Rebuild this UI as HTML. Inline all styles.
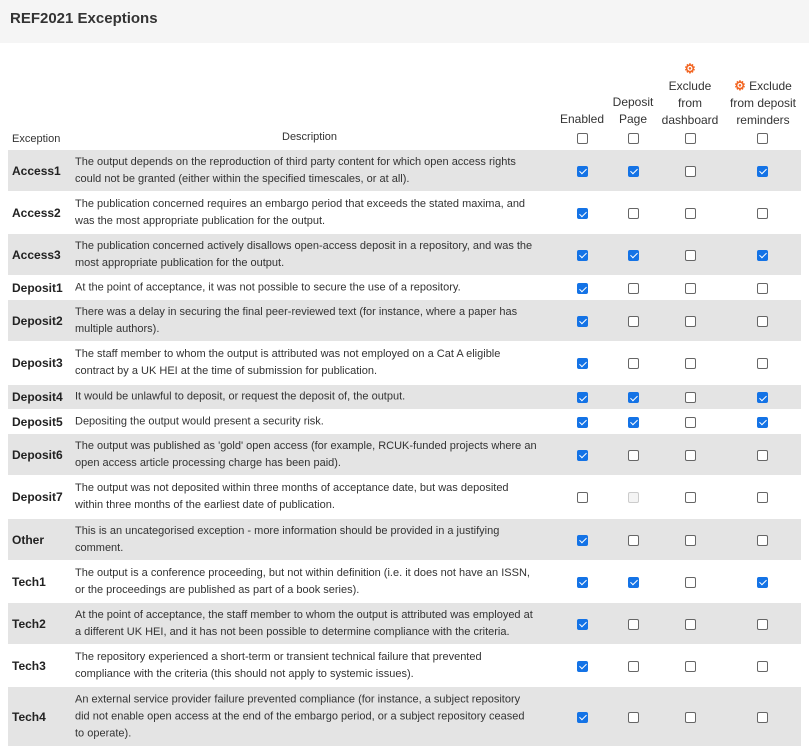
<!DOCTYPE html>
<html><head><meta charset="utf-8"><style>
*{box-sizing:border-box;margin:0;padding:0}
body{width:809px;height:754px;background:#fff;font-family:"Liberation Sans",sans-serif;color:#333;position:relative;overflow:hidden}
.hdr{position:absolute;left:0;top:0;width:809px;height:43px;background:#f5f5f5}
.hdr h1{position:absolute;left:10px;top:10px;font-size:15px;font-weight:bold;color:#333}
.row{position:absolute;left:8px;width:793px}
.row.s{background:#e4e4e4}
.ex{position:absolute;left:4px;top:50%;transform:translateY(-50%);font-size:12px;font-weight:bold;color:#222}
.de{position:absolute;left:67px;top:50%;transform:translateY(-50%);font-size:11px;line-height:17px;color:#333;white-space:nowrap}
.cb{position:absolute;top:50%;margin-top:-5px;width:11px;height:11px;border:1px solid #666;border-radius:2px;background:#fff}
.cb.on{background:#1473e6;border-color:#1473e6}
.cb.on:after{content:"";position:absolute;left:3px;top:0.5px;width:3px;height:6px;border:solid #fff;border-width:0 1.6px 1.6px 0;transform:rotate(45deg)}
.cb.dis{border-color:#ccc;background:#f4f4f4}
.c1{left:569px}.c2{left:620px}.c3{left:677px}.c4{left:749px}
.th{position:absolute;font-size:12px;color:#333;text-align:center;line-height:17px}
.gear{color:#f26522;font-size:13px;font-weight:bold}
</style></head><body>
<div class="hdr"><h1>REF2021 Exceptions</h1></div>
<div class="th" style="left:12px;top:131px;font-size:11px;text-align:left">Exception</div>
<div class="th" style="left:282px;top:129px;font-size:11px">Description</div>
<div class="th" style="left:552px;top:111px;width:60px">Enabled</div>
<div class="th" style="left:605px;top:94px;width:56px">Deposit<br>Page</div>
<div class="th" style="left:655px;top:60px;width:70px"><span class="gear">⚙</span><br>Exclude<br>from<br>dashboard</div>
<div class="th" style="left:722px;top:77px;width:82px"><span class="gear">⚙</span> Exclude<br>from deposit<br>reminders</div>
<div class="row" style="top:130px;height:16px;left:8px">
<span class="cb c1"></span><span class="cb c2"></span><span class="cb c3"></span><span class="cb c4"></span></div>

<div class="row s" style="top:150px;height:41px"><span class="ex">Access1</span><span class="de">The output depends on the reproduction of third party content for which open access rights<br>could not be granted (either within the specified timescales, or at all).</span><span class="cb c1 on"></span><span class="cb c2 on"></span><span class="cb c3"></span><span class="cb c4 on"></span></div>
<div class="row" style="top:192px;height:42px"><span class="ex">Access2</span><span class="de">The publication concerned requires an embargo period that exceeds the stated maxima, and<br>was the most appropriate publication for the output.</span><span class="cb c1 on"></span><span class="cb c2"></span><span class="cb c3"></span><span class="cb c4"></span></div>
<div class="row s" style="top:234px;height:41px"><span class="ex">Access3</span><span class="de">The publication concerned actively disallows open-access deposit in a repository, and was the<br>most appropriate publication for the output.</span><span class="cb c1 on"></span><span class="cb c2 on"></span><span class="cb c3"></span><span class="cb c4 on"></span></div>
<div class="row" style="top:276px;height:24px"><span class="ex">Deposit1</span><span class="de">At the point of acceptance, it was not possible to secure the use of a repository.</span><span class="cb c1 on"></span><span class="cb c2"></span><span class="cb c3"></span><span class="cb c4"></span></div>
<div class="row s" style="top:300px;height:41px"><span class="ex">Deposit2</span><span class="de">There was a delay in securing the final peer-reviewed text (for instance, where a paper has<br>multiple authors).</span><span class="cb c1 on"></span><span class="cb c2"></span><span class="cb c3"></span><span class="cb c4"></span></div>
<div class="row" style="top:342px;height:42px"><span class="ex">Deposit3</span><span class="de">The staff member to whom the output is attributed was not employed on a Cat A eligible<br>contract by a UK HEI at the time of submission for publication.</span><span class="cb c1 on"></span><span class="cb c2"></span><span class="cb c3"></span><span class="cb c4"></span></div>
<div class="row s" style="top:385px;height:24px"><span class="ex">Deposit4</span><span class="de">It would be unlawful to deposit, or request the deposit of, the output.</span><span class="cb c1 on"></span><span class="cb c2 on"></span><span class="cb c3"></span><span class="cb c4 on"></span></div>
<div class="row" style="top:409px;height:25px"><span class="ex">Deposit5</span><span class="de">Depositing the output would present a security risk.</span><span class="cb c1 on"></span><span class="cb c2 on"></span><span class="cb c3"></span><span class="cb c4 on"></span></div>
<div class="row s" style="top:434px;height:41px"><span class="ex">Deposit6</span><span class="de">The output was published as 'gold' open access (for example, RCUK-funded projects where an<br>open access article processing charge has been paid).</span><span class="cb c1 on"></span><span class="cb c2"></span><span class="cb c3"></span><span class="cb c4"></span></div>
<div class="row" style="top:476px;height:42px"><span class="ex">Deposit7</span><span class="de">The output was not deposited within three months of acceptance date, but was deposited<br>within three months of the earliest date of publication.</span><span class="cb c1"></span><span class="cb c2 dis"></span><span class="cb c3"></span><span class="cb c4"></span></div>
<div class="row s" style="top:519px;height:41px"><span class="ex">Other</span><span class="de">This is an uncategorised exception - more information should be provided in a justifying<br>comment.</span><span class="cb c1 on"></span><span class="cb c2"></span><span class="cb c3"></span><span class="cb c4"></span></div>
<div class="row" style="top:561px;height:41px"><span class="ex">Tech1</span><span class="de">The output is a conference proceeding, but not within definition (i.e. it does not have an ISSN,<br>or the proceedings are published as part of a book series).</span><span class="cb c1 on"></span><span class="cb c2 on"></span><span class="cb c3"></span><span class="cb c4 on"></span></div>
<div class="row s" style="top:603px;height:41px"><span class="ex">Tech2</span><span class="de">At the point of acceptance, the staff member to whom the output is attributed was employed at<br>a different UK HEI, and it has not been possible to determine compliance with the criteria.</span><span class="cb c1 on"></span><span class="cb c2"></span><span class="cb c3"></span><span class="cb c4"></span></div>
<div class="row" style="top:645px;height:41px"><span class="ex">Tech3</span><span class="de">The repository experienced a short-term or transient technical failure that prevented<br>compliance with the criteria (this should not apply to systemic issues).</span><span class="cb c1 on"></span><span class="cb c2"></span><span class="cb c3"></span><span class="cb c4"></span></div>
<div class="row s" style="top:687px;height:59px"><span class="ex">Tech4</span><span class="de">An external service provider failure prevented compliance (for instance, a subject repository<br>did not enable open access at the end of the embargo period, or a subject repository ceased<br>to operate).</span><span class="cb c1 on"></span><span class="cb c2"></span><span class="cb c3"></span><span class="cb c4"></span></div>
</body></html>
